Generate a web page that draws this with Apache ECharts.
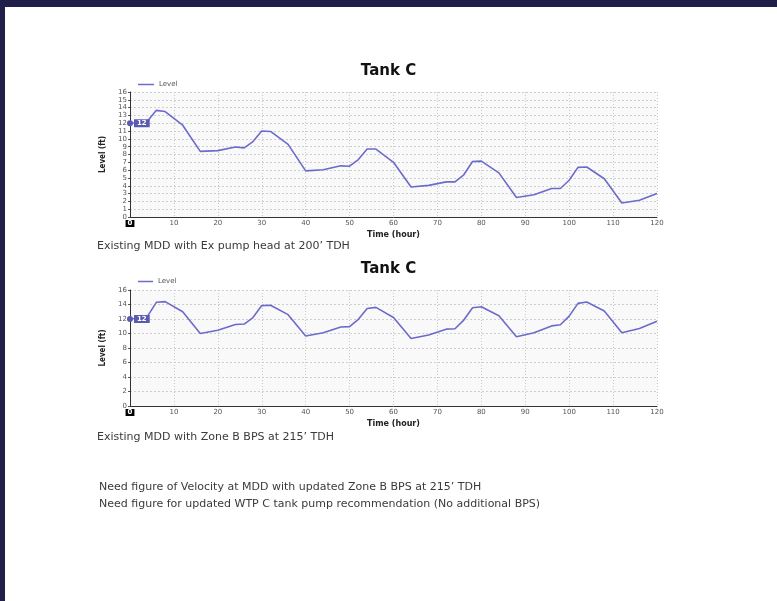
<!DOCTYPE html>
<html>
<head>
<meta charset="utf-8">
<script src="https://cdn.jsdelivr.net/npm/echarts@6/dist/echarts.min.js"></script>
<style>
  html, body { margin: 0; padding: 0; background: #fff; }
  #chart { width: 777px; height: 601px; }
</style>
</head>
<body>
<div id="chart"></div>
<script>
// Simulation time steps (hours) shared by both runs
const hours = [0, 2, 4, 6, 8, 12, 16, 20, 24, 26, 28, 30, 32, 36, 40, 44, 48, 50, 52, 54, 56, 60,
  64, 68, 72, 74, 76, 78, 80, 84, 88, 92, 96, 98, 100, 102, 104, 108, 112, 116, 120];

// Tank C level (ft), existing MDD with existing pump head at 200' TDH
const levelEx = [12, 12.1, 12.3, 13.65, 13.5, 11.75, 8.4, 8.5, 8.95, 8.85, 9.65, 11.0, 10.95, 9.3,
  5.9, 6.05, 6.55, 6.5, 7.35, 8.7, 8.7, 7.0, 3.85, 4.05, 4.5, 4.5, 5.4, 7.1, 7.15, 5.65,
  2.5, 2.85, 3.65, 3.65, 4.7, 6.35, 6.4, 4.9, 1.8, 2.15, 3.0];

// Tank C level (ft), existing MDD with Zone B BPS at 215' TDH
const levelZoneB = [12, 12.1, 12.4, 14.3, 14.4, 13.0, 10.0, 10.45, 11.25, 11.3, 12.2, 13.85, 13.9, 12.6,
  9.65, 10.1, 10.9, 10.95, 11.95, 13.45, 13.6, 12.2, 9.3, 9.8, 10.6, 10.65, 11.85, 13.55, 13.7, 12.45,
  9.55, 10.1, 11.05, 11.2, 12.4, 14.15, 14.35, 13.1, 10.1, 10.7, 11.7];

const titles = ['Tank C', 'Tank C'];
const seriesName = 'Level';
const captions = [
  "Existing MDD with Ex pump head at 200\u2019 TDH",
  "Existing MDD with Zone B BPS at 215\u2019 TDH",
  "Need figure of Velocity at MDD with updated Zone B BPS at 215\u2019 TDH",
  "Need figure for updated WTP C tank pump recommendation (No additional BPS)"
];

const LINE = '#6b6bcb';
const TAG = '#5a5ab2';
const TICK_FONT = 'DejaVu Sans';
const CAPTION_FONT = 'DejaVu Sans';

const grids = [
  { left: 130, right: 120, top: 92, height: 125 },
  { left: 130, right: 120, top: 290, height: 116 }
];
const yIntervals = [1, 2];

function pairs(xs, ys) { return xs.map((x, i) => [x, ys[i]]); }

const chart = echarts.init(document.getElementById('chart'), null, { renderer: 'canvas' });

const xAxes = grids.map((g, i) => ({
  type: 'value', gridIndex: i, min: 0, max: 120, interval: 10,
  name: 'Time (hour)', nameLocation: 'middle', nameGap: 14,
  nameTextStyle: { fontFamily: TICK_FONT, fontWeight: 'bold', fontSize: 8, color: '#222' },
  axisLine: { show: true, onZero: false, lineStyle: { color: '#333', width: 1 } },
  axisTick: { show: false },
  axisLabel: {
    fontFamily: TICK_FONT, fontSize: 7, color: '#555', margin: 3,
    formatter: v => v === 0 ? '{z|0}' : String(v),
    rich: { z: { backgroundColor: '#000', color: '#fff', fontWeight: 'bold', fontSize: 7, padding: [0, 2, 0, 2], fontFamily: TICK_FONT } }
  },
  splitLine: { show: true, lineStyle: { color: '#c8c8c8', type: [1, 2], width: 1 } }
}));

const yAxes = grids.map((g, i) => ({
  type: 'value', gridIndex: i, min: 0, max: 16, interval: yIntervals[i],
  name: 'Level (ft)', nameLocation: 'middle', nameGap: 22, nameRotate: 90,
  nameTextStyle: { fontFamily: "'DejaVu Sans Condensed', 'Liberation Sans', sans-serif", fontWeight: 'bold', fontSize: 8, color: '#222' },
  axisLine: { show: true, lineStyle: { color: '#333', width: 1 } },
  axisTick: { show: true, length: 2, lineStyle: { color: '#555' } },
  axisLabel: { fontFamily: TICK_FONT, fontSize: 7, color: '#555', margin: 3 },
  splitLine: { show: true, lineStyle: { color: '#cfcfcf', type: [2, 2], width: 1 } }
}));

function levelSeries(i, ys) {
  return {
    name: seriesName, type: 'line', xAxisIndex: i, yAxisIndex: i,
    data: pairs(hours, ys), symbol: 'none', smooth: false,
    lineStyle: { color: LINE, width: 1.6 }, itemStyle: { color: LINE },
    markPoint: {
      symbol: 'circle', symbolSize: 6, itemStyle: { color: TAG },
      data: [{ coord: [hours[0], ys[0]], value: ys[0] }],
      label: {
        show: true, position: 'right', distance: 1, formatter: '{c}',
        backgroundColor: TAG, color: '#fff', fontSize: 7, fontWeight: 'bold',
        fontFamily: TICK_FONT, padding: [1, 3, 0, 3]
      }
    }
  };
}

function caption(text, x, y) {
  return { type: 'text', x: x, y: y, style: { text: text, fontFamily: CAPTION_FONT, fontSize: 11, fill: '#3a3a3a', textVerticalAlign: 'middle' } };
}

const titleStyle = { fontFamily: 'DejaVu Sans', fontWeight: 'bold', fontSize: 15, color: '#111' };

const option = {
  backgroundColor: '#ffffff',
  animation: false,
  title: [
    { text: titles[0], left: 'center', top: 59, textStyle: titleStyle },
    { text: titles[1], left: 'center', top: 257, textStyle: titleStyle }
  ],
  legend: [
    { data: [seriesName], left: 133, top: 76, icon: 'rect', itemWidth: 16, itemHeight: 1.5, itemGap: 4,
      textStyle: { fontFamily: TICK_FONT, fontSize: 7, color: '#555' } }
  ],
  grid: grids.map(g => Object.assign({ show: true, backgroundColor: '#f9f9f9', borderWidth: 0 }, g)),
  xAxis: xAxes,
  yAxis: yAxes,
  series: [levelSeries(0, levelEx), levelSeries(1, levelZoneB)],
  graphic: [
    { type: 'rect', shape: { x: 0, y: 0, width: 777, height: 7 }, style: { fill: '#201f4a' } },
    { type: 'rect', shape: { x: 0, y: 0, width: 5, height: 601 }, style: { fill: '#201f4a' } },
    // legend entry of the lower chart
    { type: 'line', shape: { x1: 138, y1: 281.5, x2: 153, y2: 281.5 }, style: { stroke: LINE, lineWidth: 1.5 } },
    { type: 'text', x: 158, y: 281.5, style: { text: seriesName, fontFamily: TICK_FONT, fontSize: 7, fill: '#555', textVerticalAlign: 'middle' } },
    caption(captions[0], 97, 246),
    caption(captions[1], 97, 437),
    caption(captions[2], 99, 487),
    caption(captions[3], 99, 504)
  ]
};

chart.setOption(option);
</script>
</body>
</html>
